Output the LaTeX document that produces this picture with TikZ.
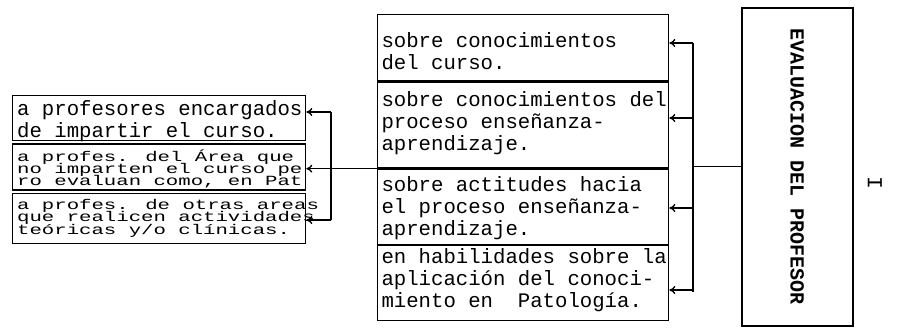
\documentclass[tikz,border=0pt]{standalone}
\usepackage{fontspec}
\setmainfont{Liberation Mono}
\usepackage{graphicx}
\usetikzlibrary{positioning,arrows.meta}

% three squeezed typewriter lines
\newcommand{\squeezed}[3]{\scalebox{1}[0.68]{\vbox{\lineskiplimit=-20pt\relax\baselineskip=13.4pt\relax
  \hbox{#1}\hbox{#2}\hbox{#3}}}}
\tikzset{every picture/.style={line width=0.75pt}}
\tikzset{
  cellbox/.style={draw, line width=1pt, anchor=north west, minimum width=218.25pt, inner sep=0pt},
  sidebox/.style={draw, line width=1pt, anchor=north west, minimum width=219.75pt, inner sep=0pt},
  celltext/.style={anchor=west, inner sep=0pt, align=left,
    font=\fontsize{15.5}{16.5}\selectfont},
  tighttext/.style={anchor=west, inner sep=0pt, font=\fontsize{15.5}{13.4}\selectfont},
  arr/.style={line width=1pt, -{To[length=4.5pt,width=6pt]}},
  link/.style={line width=1pt}
}

\begin{document}
\begin{tikzpicture}[x=0.75pt,y=0.75pt,yscale=-1,xscale=1]
\useasboundingbox (0,0) rectangle (898,330);

% middle column
\node [cellbox, minimum height=49.5pt] (c1) at (377,14) {};
\node [cellbox, minimum height=64.5pt, below=0pt of c1.south west, anchor=north west] (c2) {};
\node [cellbox, minimum height=56.25pt, below=0pt of c2.south west, anchor=north west] (c3) {};
\node [cellbox, minimum height=56.25pt, below=0pt of c3.south west, anchor=north west] (c4) {};
% Text Node
\node [celltext] (t1) at ([xshift=3pt,yshift=2.5pt]c1.west) {sobre conocimientos\\del curso.};
% Text Node
\node [celltext] (t2) at ([xshift=3pt,yshift=-1.5pt]c2.west) {sobre conocimientos del\\proceso enseñanza-\\aprendizaje.};
% Text Node
\node [celltext] (t3) at ([xshift=3pt,yshift=1pt]c3.west) {sobre actitudes hacia\\el proceso enseñanza-\\aprendizaje.};
% Text Node
\node [celltext] (t4) at ([xshift=3pt,yshift=-2pt]c4.west) {en habilidades sobre la\\aplicación del conoci-\\miento en\ \ Patología.};

% left column
\node [sidebox, minimum height=33.75pt] (l1) at (12,95) {};
\node [sidebox, minimum height=34.5pt, below=1.5pt of l1.south west, anchor=north west] (l2) {};
\node [sidebox, minimum height=37.5pt, below=1.5pt of l2.south west, anchor=north west] (l3) {};
% Text Node
\node [celltext] (s1) at ([xshift=3.5pt,yshift=2pt]l1.west) {a profesores encargados\\de impartir el curso.};
% Text Node
\node [tighttext] (s2) at ([xshift=3.5pt,yshift=1.5pt]l2.west) {\squeezed{a profes. del Área que}{no imparten el curso pe}{ro evaluan como, en Pat}};
% Text Node
\node [tighttext] (s3) at ([xshift=3.5pt]l3.west) {\squeezed{a profes. de otras areas}{que realicen actividades}{teóricas y/o clínicas.}};

% Text Node
\node [draw, line width=1.2pt, anchor=north west, minimum width=83.25pt, minimum height=238.5pt,
  font=\fontsize{15}{18}\selectfont\bfseries] (eval) at (741,7) {\rotatebox{-90}{EVALUACION DEL PROFESOR}};
% Text Node
\node [font=\fontsize{16}{18}\selectfont, rotate=-90] (num) at (875,183) {I};

% bracket on the right
\coordinate (b1) at (693,43);
\coordinate (b2) at (693,118);
\coordinate (b3) at (693,208);
\coordinate (b4) at (693,292);
%Straight Lines
\draw [link] (eval.west) -- (eval.west -| b1);
\draw [link] (b1) -- (b4);
\draw [arr] (b1) -- (b1 -| c1.east);
\draw [arr] (b2) -- (b2 -| c2.east);
\draw [arr] (b3) -- (b3 -| c3.east);
\draw [arr] ([yshift=-1.5pt]b4) -- ([yshift=-1.5pt]b4 -| c4.east);

% bracket on the left
\coordinate (d1) at (331,112);
\coordinate (d3) at (331,220);
%Straight Lines
\draw [arr] (c3.north west) -- (c3.north west -| l2.east);
\draw [link] (d1) -- (d3);
\draw [arr] (d1) -- (d1 -| l1.east);
\draw [arr] (d3) -- (d3 -| l3.east);

\end{tikzpicture}
\end{document}
